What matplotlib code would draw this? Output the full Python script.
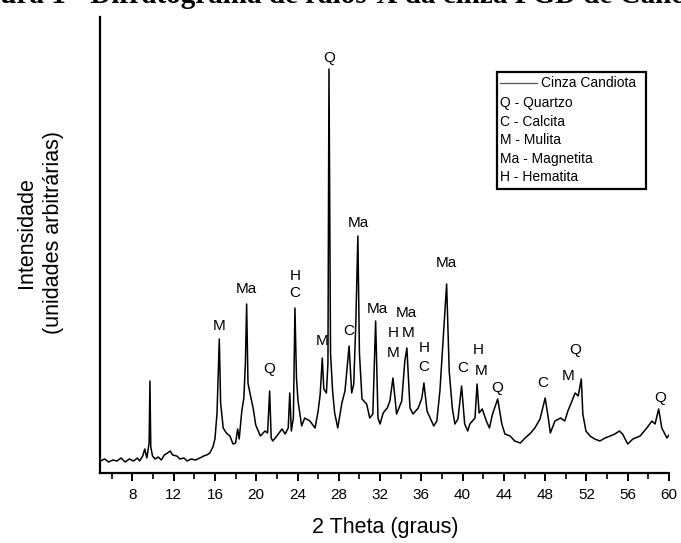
import matplotlib
matplotlib.use("Agg")
import matplotlib.pyplot as plt
from matplotlib.patches import Rectangle
from matplotlib.lines import Line2D

plt.rcParams['font.family'] = ['Liberation Sans', 'DejaVu Sans']

# difratograma (2 theta em graus, intensidade em unidades arbitrarias)
two_theta = [4.90, 5.30, 5.70, 6.10, 6.50, 6.90, 7.30, 7.70, 8.10, 8.50, 8.70, 9.00,
             9.20, 9.40, 9.62, 9.70, 9.78, 9.95, 10.20, 10.50, 10.80, 11.10, 11.40, 11.66,
             11.90, 12.30, 12.60, 13.00, 13.30, 13.70, 14.10, 14.55, 14.90, 15.20, 15.50, 15.80,
             16.00, 16.20, 16.42, 16.55, 16.80, 17.10, 17.45, 17.75, 18.00, 18.20, 18.35, 18.60,
             18.80, 18.95, 19.07, 19.20, 19.45, 19.70, 19.95, 20.40, 20.85, 21.10, 21.30, 21.45,
             21.60, 22.00, 22.50, 22.80, 23.10, 23.25, 23.40, 23.60, 23.75, 23.90, 24.05, 24.40,
             24.70, 25.20, 25.70, 26.00, 26.20, 26.40, 26.55, 26.80, 26.95, 27.05, 27.20, 27.40,
             27.60, 27.90, 28.30, 28.60, 29.00, 29.25, 29.45, 29.65, 29.85, 30.00, 30.25, 30.70,
             31.00, 31.30, 31.57, 31.80, 32.00, 32.30, 32.70, 32.95, 33.25, 33.60, 34.10, 34.40,
             34.60, 34.90, 35.20, 35.70, 36.05, 36.25, 36.55, 36.90, 37.20, 37.50, 37.80, 38.10,
             38.45, 38.70, 39.00, 39.25, 39.55, 39.90, 40.20, 40.50, 40.70, 41.20, 41.40, 41.60,
             41.90, 42.30, 42.60, 42.90, 43.40, 43.80, 44.10, 44.60, 45.05, 45.60, 46.05, 46.50,
             47.00, 47.50, 48.00, 48.30, 48.50, 48.95, 49.50, 49.90, 50.20, 50.60, 50.90, 51.20,
             51.50, 51.65, 51.95, 52.35, 52.80, 53.30, 53.80, 54.30, 54.75, 55.20, 55.50, 56.00,
             56.50, 57.20, 57.85, 58.35, 58.65, 59.00, 59.30, 59.80, 60.00]
intensity = [12, 14, 11, 13, 12, 15, 11, 14, 12, 15, 12, 17,
             24, 15, 30, 92, 26, 17, 14, 16, 13, 18, 20, 22,
             18, 17, 14, 15, 12, 14, 13, 15, 17, 18, 20, 26,
             34, 60, 134, 70, 45, 40, 37, 29, 30, 44, 34, 62,
             75, 110, 169, 90, 77, 65, 48, 37, 42, 40, 82, 35,
             32, 37, 44, 39, 45, 80, 42, 55, 165, 95, 72, 47,
             55, 52, 45, 62, 79, 115, 84, 80, 110, 404, 120, 82,
             60, 45, 70, 82, 127, 80, 89, 150, 237, 120, 74, 69,
             55, 59, 152, 55, 49, 60, 65, 72, 95, 59, 72, 112,
             125, 65, 59, 65, 75, 90, 62, 54, 47, 52, 82, 132,
             189, 102, 65, 49, 54, 87, 49, 42, 49, 55, 89, 60,
             64, 52, 45, 59, 74, 49, 39, 37, 32, 30, 35, 39,
             45, 54, 75, 55, 40, 52, 55, 52, 62, 72, 80, 77,
             94, 59, 42, 37, 34, 32, 35, 37, 39, 42, 39, 29,
             34, 37, 45, 52, 49, 64, 45, 35, 38]

# identificacao das fases
peak_text = ['M', 'Ma', 'Q', 'C', 'H', 'M', 'Q', 'C', 'Ma', 'Ma', 'H', 'M', 'M', 'Ma',
             'H', 'C', 'Ma', 'C', 'H', 'M', 'Q', 'C', 'M', 'Q', 'Q']
peak_x = [16.4, 19.07, 21.3, 23.75, 23.75, 26.35, 27.05, 29.0, 29.9, 31.7, 33.25, 34.7, 33.25, 34.55,
          36.25, 36.2, 38.45, 40.0, 41.5, 41.8, 43.35, 47.8, 50.2, 50.9, 59.1]
peak_y = [147, 184, 104, 180, 197, 132, 415, 142, 250, 164, 140, 140, 120, 160,
          125, 106, 210, 105, 123, 102, 85, 90, 97, 123, 75]

legend_lines = ['Q - Quartzo', 'C - Calcita', 'M - Mulita', 'Ma - Magnetita', 'H - Hematita']

W, H = 681, 543
fig = plt.figure(figsize=(W / 100, H / 100), dpi=100)
ax = fig.add_axes([100 / W, 1 - 473 / H, 569 / W, 456 / H])

ax.plot(two_theta, intensity, color='black', lw=1.1)
for t, x, y in zip(peak_text, peak_x, peak_y):
    ax.text(x, y, t, ha='center', va='center', fontsize=11)

ax.set_xlim(4.86, 60)
ax.set_ylim(0, 456)
ax.spines['top'].set_visible(False)
ax.spines['right'].set_visible(False)
ax.spines['left'].set_linewidth(1.6)
ax.spines['bottom'].set_linewidth(1.6)
ax.set_xticks(range(8, 61, 4))
ax.set_xticks(range(6, 60, 4), minor=True)
ax.set_yticks([])
ax.tick_params(axis='x', which='major', length=6, width=1.4, labelsize=11, pad=5)
ax.tick_params(axis='x', which='minor', length=4, width=1.2)

fig.text(385 / W, 1 - 527 / H, '2 Theta (graus)', ha='center', va='center', fontsize=15.5)
fig.text(40 / W, 1 - 233 / H, 'Intensidade\n(unidades arbitrárias)', rotation=90,
         ha='center', va='center', multialignment='center', fontsize=15.5, linespacing=1.4)

# caixa da legenda
fig.patches.append(Rectangle((497 / W, 1 - 189 / H), 149 / W, 117 / H,
                             transform=fig.transFigure, fill=False, lw=1.6, ec='black'))
fig.lines.append(Line2D([500 / W, 537 / W], [1 - 83 / H, 1 - 83 / H],
                        transform=fig.transFigure, color='#555555', lw=0.9))
fig.text(541 / W, 1 - 83 / H, 'Cinza Candiota', ha='left', va='center', fontsize=10)
for i, s in enumerate(legend_lines):
    fig.text(500 / W, 1 - (103 + 18.6 * i) / H, s, ha='left', va='center', fontsize=10)

# legenda da figura, cortada no topo como no original
fig.text(-40 / W, 1 - 3 / H, 'Figura 1 - Difratograma de raios-X da cinza FGD de Candiota',
         family='Liberation Serif', weight='bold', fontsize=21, va='baseline', ha='left')

fig.savefig('out.png', dpi=100)
